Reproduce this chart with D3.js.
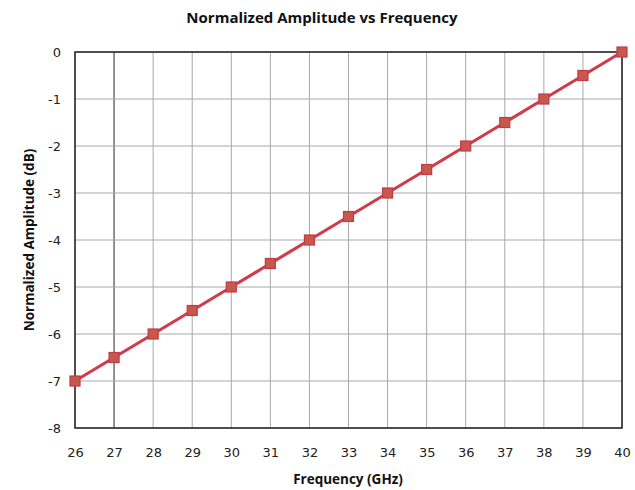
<!DOCTYPE html>
<html><head><meta charset="utf-8">
<script src="https://cdn.jsdelivr.net/npm/d3@7"></script>
<style>body{margin:0;background:#fff}</style>
</head><body><svg id="c" width="635" height="490"></svg>
<script>
const freqs = [26,27,28,29,30,31,32,33,34,35,36,37,38,39,40];
const amps = [-7,-6.5,-6,-5.5,-5,-4.5,-4,-3.5,-3,-2.5,-2,-1.5,-1,-0.5,0];
const xTicks = [26,27,28,29,30,31,32,33,34,35,36,37,38,39,40];
const yTicks = [0,-1,-2,-3,-4,-5,-6,-7,-8];

const svg = d3.select('#c');
const m = {l:75, r:13, t:52, b:62};
const W = 635, H = 490;
const x = d3.scaleLinear().domain([26,40]).range([m.l, W-m.r]);
const y = d3.scaleLinear().domain([-8,0]).range([H-m.b, m.t]);

// grid
svg.append('g').selectAll('line').data(xTicks).join('line')
  .attr('x1',d=>x(d)).attr('x2',d=>x(d)).attr('y1',y(0)).attr('y2',y(-8))
  .attr('stroke',d=>d===27?'#777':'#a8a8a8').attr('stroke-width',d=>d===27?1.6:1);
svg.append('g').selectAll('line').data(yTicks).join('line')
  .attr('x1',x(26)).attr('x2',x(40)).attr('y1',d=>y(d)).attr('y2',d=>y(d))
  .attr('stroke','#a8a8a8').attr('stroke-width',1);
// border
svg.append('rect').attr('x',x(26)).attr('y',y(0)).attr('width',x(40)-x(26)).attr('height',y(-8)-y(0))
  .attr('fill','none').attr('stroke','#222').attr('stroke-width',1.5);

// axes
const xa = svg.append('g').attr('transform',`translate(0,${y(-8)})`)
  .call(d3.axisBottom(x).tickValues(xTicks).tickSize(0).tickPadding(20).tickFormat(d=>String(d)));
xa.select('.domain').remove();
xa.selectAll('text').attr('font-family','DejaVu Sans, sans-serif').attr('font-size',13).attr('fill','#222');
const ya = svg.append('g').attr('transform',`translate(${x(26)},0)`)
  .call(d3.axisLeft(y).tickValues(yTicks).tickSize(0).tickPadding(14).tickFormat(d=>String(d)));
ya.select('.domain').remove();
ya.selectAll('text').attr('font-family','DejaVu Sans, sans-serif').attr('font-size',13).attr('fill','#222');

// line
const data = freqs.map((f,i)=>({f, a:amps[i]}));
svg.append('path').datum(data)
  .attr('d', d3.line().x(d=>x(d.f)).y(d=>y(d.a)))
  .attr('fill','none').attr('stroke','#d03c4c').attr('stroke-width',3.2);
svg.append('g').selectAll('rect').data(data).join('rect')
  .attr('x',d=>x(d.f)-5).attr('y',d=>y(d.a)-5).attr('width',10).attr('height',10)
  .attr('fill','#c8584a').attr('stroke','#c03a48').attr('stroke-width',1.2);

// titles
svg.append('text').attr('x',322).attr('y',23).attr('text-anchor','middle')
  .attr('font-family','Open Sans, sans-serif').attr('font-weight','bold').attr('font-size',15)
  .attr('fill','#111').text('Normalized Amplitude vs Frequency');
svg.append('text').attr('x',348).attr('y',484).attr('text-anchor','middle')
  .attr('font-family','Open Sans, sans-serif').attr('font-weight','bold').attr('font-size',13.5)
  .attr('fill','#111').text('Frequency (GHz)');
svg.append('text').attr('transform',`translate(34,${(y(0)+y(-8))/2}) rotate(-90)`).attr('text-anchor','middle')
  .attr('font-family','Open Sans, sans-serif').attr('font-weight','bold').attr('font-size',13.5)
  .attr('fill','#111').text('Normalized Amplitude (dB)');
</script></body></html>
